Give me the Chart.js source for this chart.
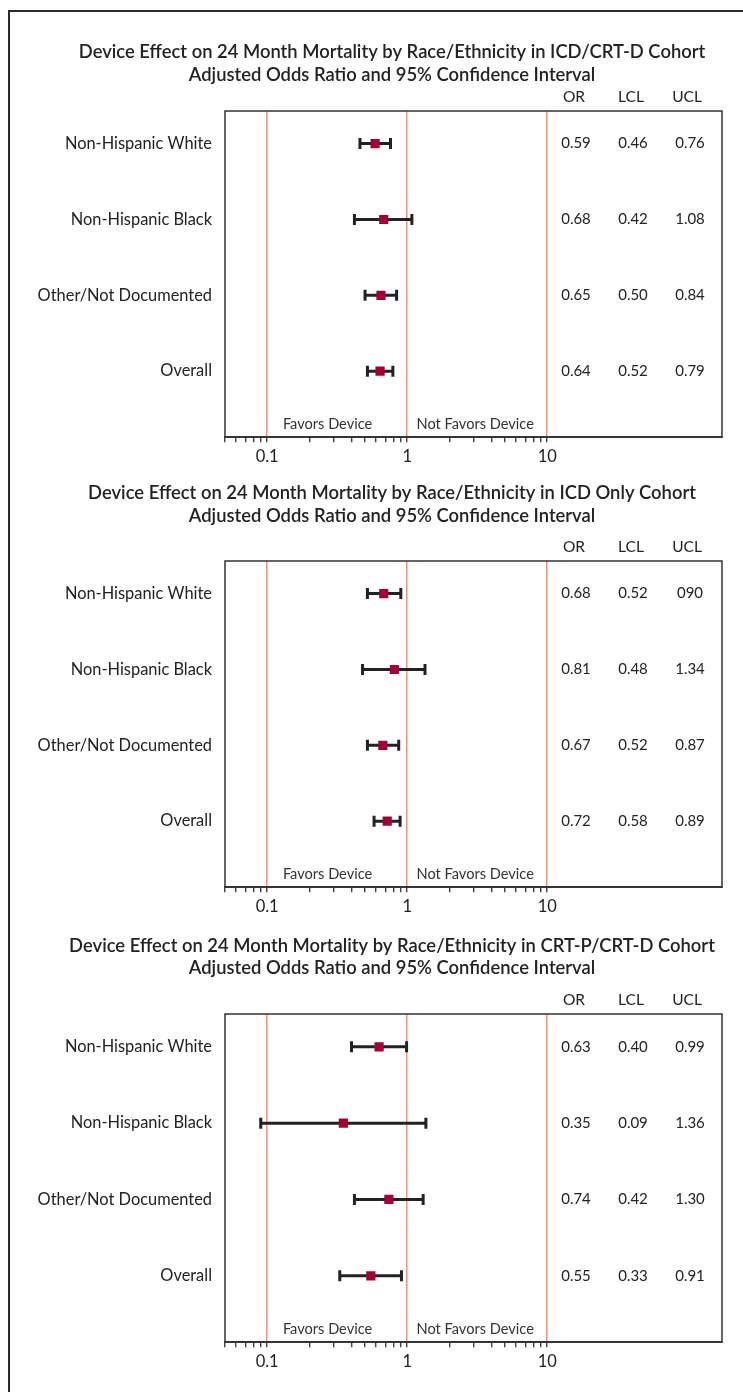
<!DOCTYPE html>
<html>
<head>
<meta charset="utf-8">
<script src="https://cdn.jsdelivr.net/npm/chart.js@4.4.1/dist/chart.umd.min.js"></script>
<style>
  html, body { margin: 0; padding: 0; background: #fff; }
  body { width: 743px; height: 1392px; position: relative; overflow: hidden; }
  .frame { position: absolute; left: 8px; top: 10px; width: 800px; height: 1500px; border: 2px solid #2a2a2a; }
  .panel { position: absolute; left: 0; width: 743px; }
</style>
</head>
<body>
<div class="frame"></div>
<div class="panel" id="p1"><canvas id="c1"></canvas></div>
<div class="panel" id="p2"><canvas id="c2"></canvas></div>
<div class="panel" id="p3"><canvas id="c3"></canvas></div>
<script>
// rows, shared by the three cohorts
const rowLabels = ['Non-Hispanic White', 'Non-Hispanic Black', 'Other/Not Documented', 'Overall'];
const tableHeads = ['OR', 'LCL', 'UCL'];
const favorLabels = ['Favors Device', 'Not Favors Device'];
const tickValues = [0.05, 0.06, 0.07, 0.08, 0.09, 0.1, 0.2, 0.3, 0.4, 0.5, 0.6, 0.7, 0.8, 0.9,
  1, 2, 3, 4, 5, 6, 7, 8, 9, 10];
const majorTicks = [0.1, 1, 10];
const subTitle = 'Adjusted Odds Ratio and 95% Confidence Interval';

// ICD/CRT-D cohort
const crtdOR = [0.59, 0.68, 0.65, 0.64];
const crtdLCL = [0.46, 0.42, 0.50, 0.52];
const crtdUCL = [0.76, 1.08, 0.84, 0.79];

// ICD only cohort (UCL of first row is printed as "090" in the source)
const icdOR = [0.68, 0.81, 0.67, 0.72];
const icdLCL = [0.52, 0.48, 0.52, 0.58];
const icdUCL = [0.90, 1.34, 0.87, 0.89];
const icdUCLText = ['090', '1.34', '0.87', '0.89'];

// CRT-P/CRT-D cohort
const crtpOR = [0.63, 0.35, 0.74, 0.55];
const crtpLCL = [0.40, 0.09, 0.42, 0.33];
const crtpUCL = [0.99, 1.36, 1.30, 0.91];

const FONT = 'Lato, "Open Sans", sans-serif';
Chart.defaults.font.family = FONT;
Chart.defaults.color = '#222';

const refColor = '#f3917a';
const markColor = '#a50034';
const barColor = '#222';

const fmt = arr => arr.map(v => v.toFixed(2));

// titles, box around the plot, the OR/LCL/UCL table and the favors labels
const forestExtras = {
  id: 'forestExtras',
  afterDraw(chart, args, opts) {
    const { ctx, chartArea: a, scales: { x, y } } = chart;
    ctx.save();
    ctx.strokeStyle = '#333';
    ctx.lineWidth = 1.5;
    ctx.strokeRect(a.left, a.top, a.right - a.left, a.bottom - a.top);

    ctx.fillStyle = '#222';
    ctx.textAlign = 'center';
    ctx.textBaseline = 'middle';
    ctx.font = '600 18.4px ' + FONT;
    ctx.fillText(opts.title[0], 392, a.top - opts.titleUp[0]);
    ctx.fillText(opts.title[1], 392, a.top - opts.titleUp[1]);

    const headOff = [148, 91, 35];
    const valOff = [146, 89, 32];
    ctx.font = '15.5px ' + FONT;
    tableHeads.forEach((h, c) => ctx.fillText(h, a.right - headOff[c], a.top - 14));
    ctx.font = '15px ' + FONT;
    opts.columns.forEach((col, c) => {
      col.forEach((t, i) => ctx.fillText(t, a.right - valOff[c], y.getPixelForValue(i)));
    });

    ctx.fillStyle = '#333';
    ctx.font = '14.6px ' + FONT;
    ctx.fillText(favorLabels[0], x.getPixelForValue(0.27), a.bottom - 13);
    ctx.fillText(favorLabels[1], x.getPixelForValue(3.06), a.bottom - 13);
    ctx.restore();
  }
};

function makeForest(id, panel, title, or, lcl, ucl, columns) {
  const holder = document.getElementById('p' + id);
  const h = panel.boxBottom - panel.top + 32;
  holder.style.top = panel.top + 'px';
  holder.style.height = h + 'px';

  const ciSets = or.map((_, i) => ({
    type: 'line',
    data: [{ x: lcl[i], y: i }, { x: ucl[i], y: i }],
    borderColor: barColor,
    borderWidth: 3,
    pointRadius: 0
  }));

  new Chart(document.getElementById('c' + id), {
    type: 'scatter',
    data: {
      datasets: [
        {
          data: or.map((v, i) => ({ x: v, y: i })),
          pointStyle: 'rect',
          pointRadius: 6.5,
          backgroundColor: markColor,
          borderWidth: 0
        },
        {
          data: lcl.map((v, i) => ({ x: v, y: i })).concat(ucl.map((v, i) => ({ x: v, y: i }))),
          pointStyle: 'line',
          rotation: 90,
          pointRadius: 5.5,
          borderColor: barColor,
          borderWidth: 3
        },
        ...ciSets
      ]
    },
    options: {
      responsive: true,
      maintainAspectRatio: false,
      animation: false,
      layout: { padding: { top: panel.boxTop - panel.top, left: 0, right: 21, bottom: 2 } },
      plugins: {
        legend: { display: false },
        tooltip: { enabled: false },
        forestExtras: { columns: columns, title: title, titleUp: panel.titleUp }
      },
      scales: {
        x: {
          type: 'logarithmic',
          min: 0.05,
          max: 177,
          afterBuildTicks: s => { s.ticks = tickValues.map(v => ({ value: v })); },
          ticks: {
            autoSkip: false,
            maxRotation: 0,
            padding: 5,
            font: { size: 16.5 },
            color: '#222',
            callback: v => majorTicks.includes(v) ? String(v) : ''
          },
          grid: {
            drawOnChartArea: true,
            drawTicks: true,
            color: c => (c.tick && majorTicks.includes(c.tick.value)) ? refColor : 'rgba(0,0,0,0)',
            lineWidth: 1.5,
            tickColor: '#222',
            tickLength: 5,
            tickWidth: 1.2
          },
          border: { display: true, color: '#333', width: 1.5 }
        },
        y: {
          type: 'linear',
          reverse: true,
          min: -0.43,
          max: 3.87,
          afterBuildTicks: s => { s.ticks = rowLabels.map((_, i) => ({ value: i })); },
          afterFit: s => { s.width = 225; },
          ticks: {
            padding: 13,
            font: { size: 16.4 },
            color: '#222',
            callback: v => rowLabels[v]
          },
          grid: { display: false, drawTicks: false },
          border: { display: false }
        }
      }
    },
    plugins: [forestExtras]
  });
}

makeForest(1, { top: 0, boxTop: 111, boxBottom: 442, titleUp: [59, 36] },
  ['Device Effect on 24 Month Mortality by Race/Ethnicity in ICD/CRT-D Cohort', subTitle],
  crtdOR, crtdLCL, crtdUCL, [fmt(crtdOR), fmt(crtdLCL), fmt(crtdUCL)]);

makeForest(2, { top: 470, boxTop: 561, boxBottom: 892, titleUp: [68, 45] },
  ['Device Effect on 24 Month Mortality by Race/Ethnicity in ICD Only Cohort', subTitle],
  icdOR, icdLCL, icdUCL, [fmt(icdOR), fmt(icdLCL), icdUCLText]);

makeForest(3, { top: 920, boxTop: 1014, boxBottom: 1347, titleUp: [68, 46] },
  ['Device Effect on 24 Month Mortality by Race/Ethnicity in CRT-P/CRT-D Cohort', subTitle],
  crtpOR, crtpLCL, crtpUCL, [fmt(crtpOR), fmt(crtpLCL), fmt(crtpUCL)]);
</script>
</body>
</html>
